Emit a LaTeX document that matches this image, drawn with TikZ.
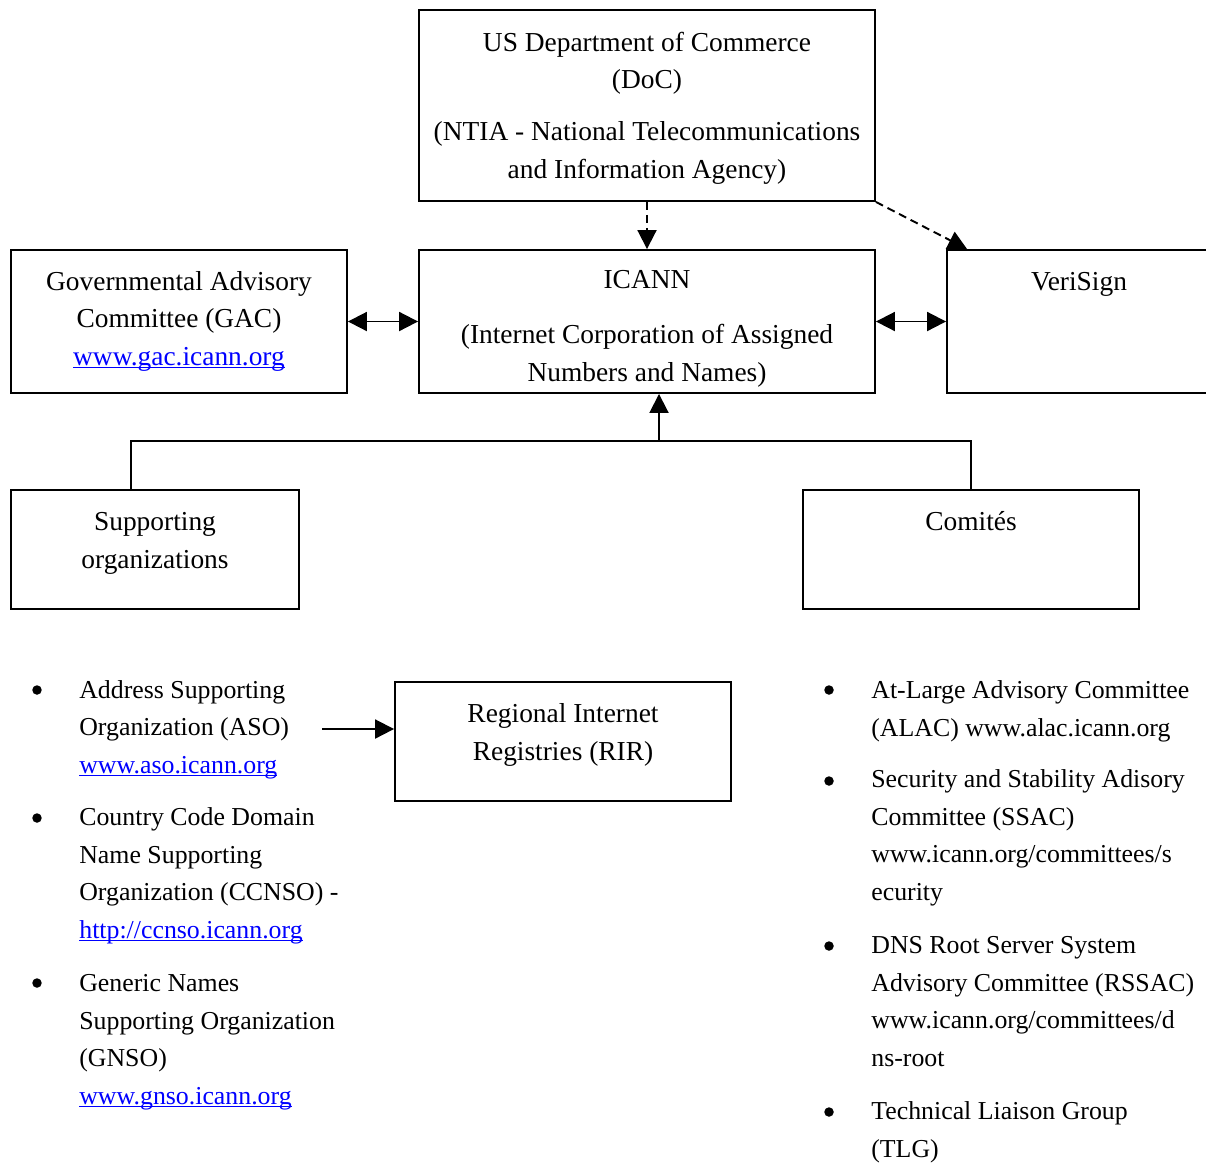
\documentclass[tikz,border=0pt]{standalone}
\usepackage{fontspec}
\setmainfont{Liberation Serif}
\usetikzlibrary{positioning, calc, arrows.meta}

\newcommand{\weblink}[1]{\textcolor{blue}{\setbox0\hbox{#1}\rlap{\rule[-1.8pt]{\wd0}{0.8pt}}\box0}}

\tikzset{
    box/.style={draw, line width=1.1pt, inner sep=0pt},
    txt/.style={align=center, anchor=base, inner sep=0pt, font=\fontsize{15.6}{21.34}\selectfont},
    lst/.style={align=left, anchor=base west, inner sep=0pt, font=\fontsize{14.7}{21.34}\selectfont},
    bul/.style={circle, fill, inner sep=0pt, minimum size=0.19cm},
    conn/.style={line width=1.1pt},
    tip/.style={conn, -{Triangle[length=0.38cm, width=0.38cm]}},
    both/.style={conn, {Triangle[length=0.38cm, width=0.38cm]}-{Triangle[length=0.38cm, width=0.38cm]}},
}

\begin{document}
\begin{tikzpicture}[x=0.02cm, y=-0.02cm]
    \useasboundingbox (0,0) rectangle (1206,1164);

    % boxes
    \node[box, minimum width=9.12cm, minimum height=3.82cm] (doc) at (647,105.5) {};
    \node[box, minimum width=6.72cm, minimum height=2.86cm] (gac) at (179,321.5) {};
    \node[box, minimum width=9.12cm, minimum height=2.86cm] (icann) at (647,321.5) {};
    \node[box, minimum width=5.46cm, minimum height=2.86cm] (veri) at (1083.5,321.5) {};
    \node[box, minimum width=5.76cm, minimum height=2.38cm] (sup) at (155,549.5) {};
    \node[box, minimum width=6.72cm, minimum height=2.38cm] (com) at (971,549.5) {};
    \node[box, minimum width=6.72cm, minimum height=2.38cm] (rir) at (563,741.5) {};

    % box texts
    \node[txt] (doctxt) at (647,178) {US Department of Commerce\\(DoC)\\[0.29cm](NTIA - National Telecommunications\\and Information Agency)};
    \node[txt] (gactxt) at (179,365) {Governmental Advisory\\Committee (GAC)\\\weblink{www.gac.icann.org}};
    \node[txt] (icanntxt) at (647,381) {ICANN\\[0.35cm](Internet Corporation of Assigned\\Numbers and Names)};
    \node[txt] (veritxt) at (1079,290) {VeriSign};
    \node[txt] (suptxt) at (155,568) {Supporting\\organizations};
    \node[txt] (comtxt) at (971,530) {Comités};
    \node[txt] (rirtxt) at (563,760) {Regional Internet\\Registries (RIR)};

    % connectors
    \draw[tip, dashed, dash pattern=on 0.16cm off 0.1cm] (doc.south) -- (icann.north);
    \draw[tip, dashed, dash pattern=on 0.16cm off 0.1cm] (doc.south east) -- ($(veri.north west)+(21,0)$);
    \draw[both] (gac.east) -- (icann.west);
    \draw[both] (icann.east) -- (veri.west);
    \coordinate (jn) at (659,441);
    \draw[conn] ($(sup.north west)!0.417!(sup.north east)$) |- (jn) -| (com.north);
    \draw[tip] (jn) -- (jn |- icann.south);
    \coordinate (asoend) at (322,729);
    \draw[tip] (asoend) -- (asoend -| rir.west);

    % bullets
    \foreach \x/\y/\n in {37/690/1, 37/818/2, 37/983/3, 829/690/4, 829/781/5, 829/946/6, 829/1112/7}
        \node[bul] (b\n) at (\x,\y) {};

    % lists
    \node[lst] (aso) at (79,773) {Address Supporting\\Organization (ASO)\\\weblink{www.aso.icann.org}};
    \node[lst] (ccnso) at (79,938) {Country Code Domain\\Name Supporting\\Organization (CCNSO) -\\\weblink{http://ccnso.icann.org}};
    \node[lst] (gnso) at (79,1104) {Generic Names\\Supporting Organization\\(GNSO)\\\weblink{www.gnso.icann.org}};
    \node[lst] (alac) at (871,736) {At-Large Advisory Committee\\(ALAC) www.alac.icann.org};
    \node[lst] (ssac) at (871,900) {Security and Stability Adisory\\Committee (SSAC)\\www.icann.org/committees/s\\ecurity};
    \node[lst] (rssac) at (871,1066) {DNS Root Server System\\Advisory Committee (RSSAC)\\www.icann.org/committees/d\\ns-root};
    \node[lst] (tlg) at (871,1157) {Technical Liaison Group\\(TLG)};
\end{tikzpicture}
\end{document}
